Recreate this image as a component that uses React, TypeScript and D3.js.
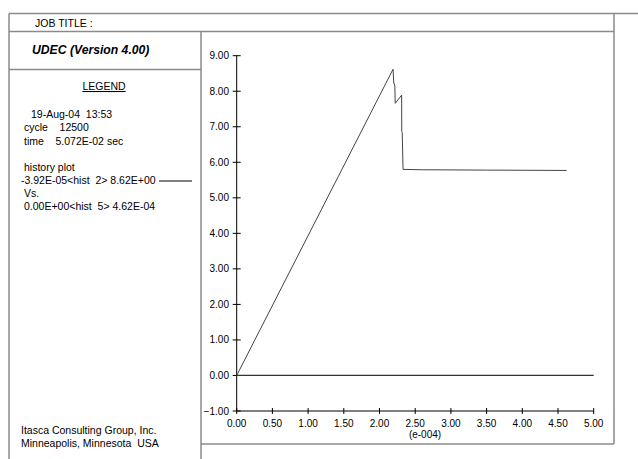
import React from "react";
import * as d3 from "d3";

const W = 638;
const H = 459;

// history series: x (e-004), y
const histX = [0, 2.19, 2.2, 2.205, 2.215, 2.22, 2.31, 2.312, 2.318, 2.33, 2.6, 3.5, 4.62];
const histY = [0, 8.62, 8.22, 8.22, 8.15, 7.66, 7.89, 6.86, 6.84, 5.8, 5.79, 5.78, 5.77];

const xTicks = [0, 0.5, 1, 1.5, 2, 2.5, 3, 3.5, 4, 4.5, 5];
const yTicks = [-1, 0, 1, 2, 3, 4, 5, 6, 7, 8, 9];

const legendLines = [
  { text: "19-Aug-04  13:53", dx: 31 },
  { text: "cycle    12500", dx: 24 },
  { text: "time    5.072E-02 sec", dx: 24 },
  { text: "", dx: 24 },
  { text: "history plot", dx: 24 },
  { text: "-3.92E-05<hist  2> 8.62E+00", dx: 21 },
  { text: "Vs.", dx: 24 },
  { text: "0.00E+00<hist  5> 4.62E-04", dx: 24 },
];

export default function App() {
  const x = d3.scaleLinear().domain([0, 5]).range([236.7, 593.7]);
  const y = d3.scaleLinear().domain([-1, 9]).range([411, 55.7]);
  const fmt = d3.format(".2f");
  const data = histX.map((v, i) => [v, histY[i]] as [number, number]);
  const line = d3
    .line<[number, number]>()
    .x((d) => x(d[0]))
    .y((d) => y(d[1]));
  const font = "'Liberation Sans', Arial, sans-serif";
  const frame = "#8a8a8a";
  const lineStarts = [118, 131, 144.5, 157.5, 171, 184, 197, 210];
  const pre = { whiteSpace: "pre" as const };

  return (
    <svg
      width={W}
      height={H}
      style={{ position: "absolute", left: 0, top: 0, background: "#fff" }}
      fontFamily={font}
    >
      <rect x={0} y={0} width={W} height={H} fill="#fff" />
      {/* frame */}
      <g stroke={frame} strokeWidth={1.5} fill="none">
        <line x1={9} y1={13.5} x2={W} y2={13.5} />
        <line x1={9} y1={13.5} x2={9} y2={H} />
        <line x1={9} y1={31.5} x2={614} y2={31.5} />
        <line x1={614} y1={13.5} x2={614} y2={444} />
        <line x1={201} y1={31.5} x2={201} y2={H} />
        <line x1={9} y1={69.5} x2={201} y2={69.5} />
        <line x1={201} y1={444} x2={614} y2={444} />
      </g>
      <text x={35} y={27} fontSize={10.5}>JOB TITLE :</text>
      <text x={32} y={54} fontSize={12.2} fontWeight="bold" fontStyle="italic">
        UDEC (Version 4.00)
      </text>
      <text x={104} y={90} fontSize={10.5} textAnchor="middle" textDecoration="underline">
        LEGEND
      </text>
      {legendLines.map((l, i) =>
        l.text ? (
          <text key={i} x={l.dx} y={lineStarts[i]} fontSize={10.5} style={pre}>
            {l.text}
          </text>
        ) : null
      )}
      <line x1={159} y1={181} x2={192} y2={181} stroke="#000" strokeWidth={1} />
      <text x={21} y={434} fontSize={10.5} style={pre}>Itasca Consulting Group, Inc.</text>
      <text x={21} y={446.5} fontSize={10.5} style={pre}>Minneapolis, Minnesota  USA</text>

      {/* axes */}
      <g stroke="#000" strokeWidth={1}>
        <line x1={x(0)} y1={y(9)} x2={x(0)} y2={y(-1)} />
        <line x1={x(0)} y1={y(-1)} x2={x(5)} y2={y(-1)} />
        {yTicks.map((t) => (
          <line key={"yt" + t} x1={x(0) - 4} x2={x(0) + 4} y1={y(t)} y2={y(t)} />
        ))}
        {xTicks.map((t) => (
          <line key={"xt" + t} x1={x(t)} x2={x(t)} y1={y(-1) - 3} y2={y(-1) + 3} />
        ))}
      </g>
      {yTicks.map((t) => (
        <text key={"yl" + t} x={229} y={y(t) + 3.5} fontSize={10} textAnchor="end">
          {fmt(t)}
        </text>
      ))}
      {xTicks.map((t) => (
        <text key={"xl" + t} x={x(t)} y={427} fontSize={10} textAnchor="middle">
          {fmt(t)}
        </text>
      ))}
      <text x={425} y={438} fontSize={10} textAnchor="middle">(e-004)</text>

      {/* zero line */}
      <line x1={x(0)} y1={y(0)} x2={x(5)} y2={y(0)} stroke="#333" strokeWidth={1.2} />
      {/* history */}
      <path d={line(data) || ""} fill="none" stroke="#444" strokeWidth={1} />
    </svg>
  );
}
